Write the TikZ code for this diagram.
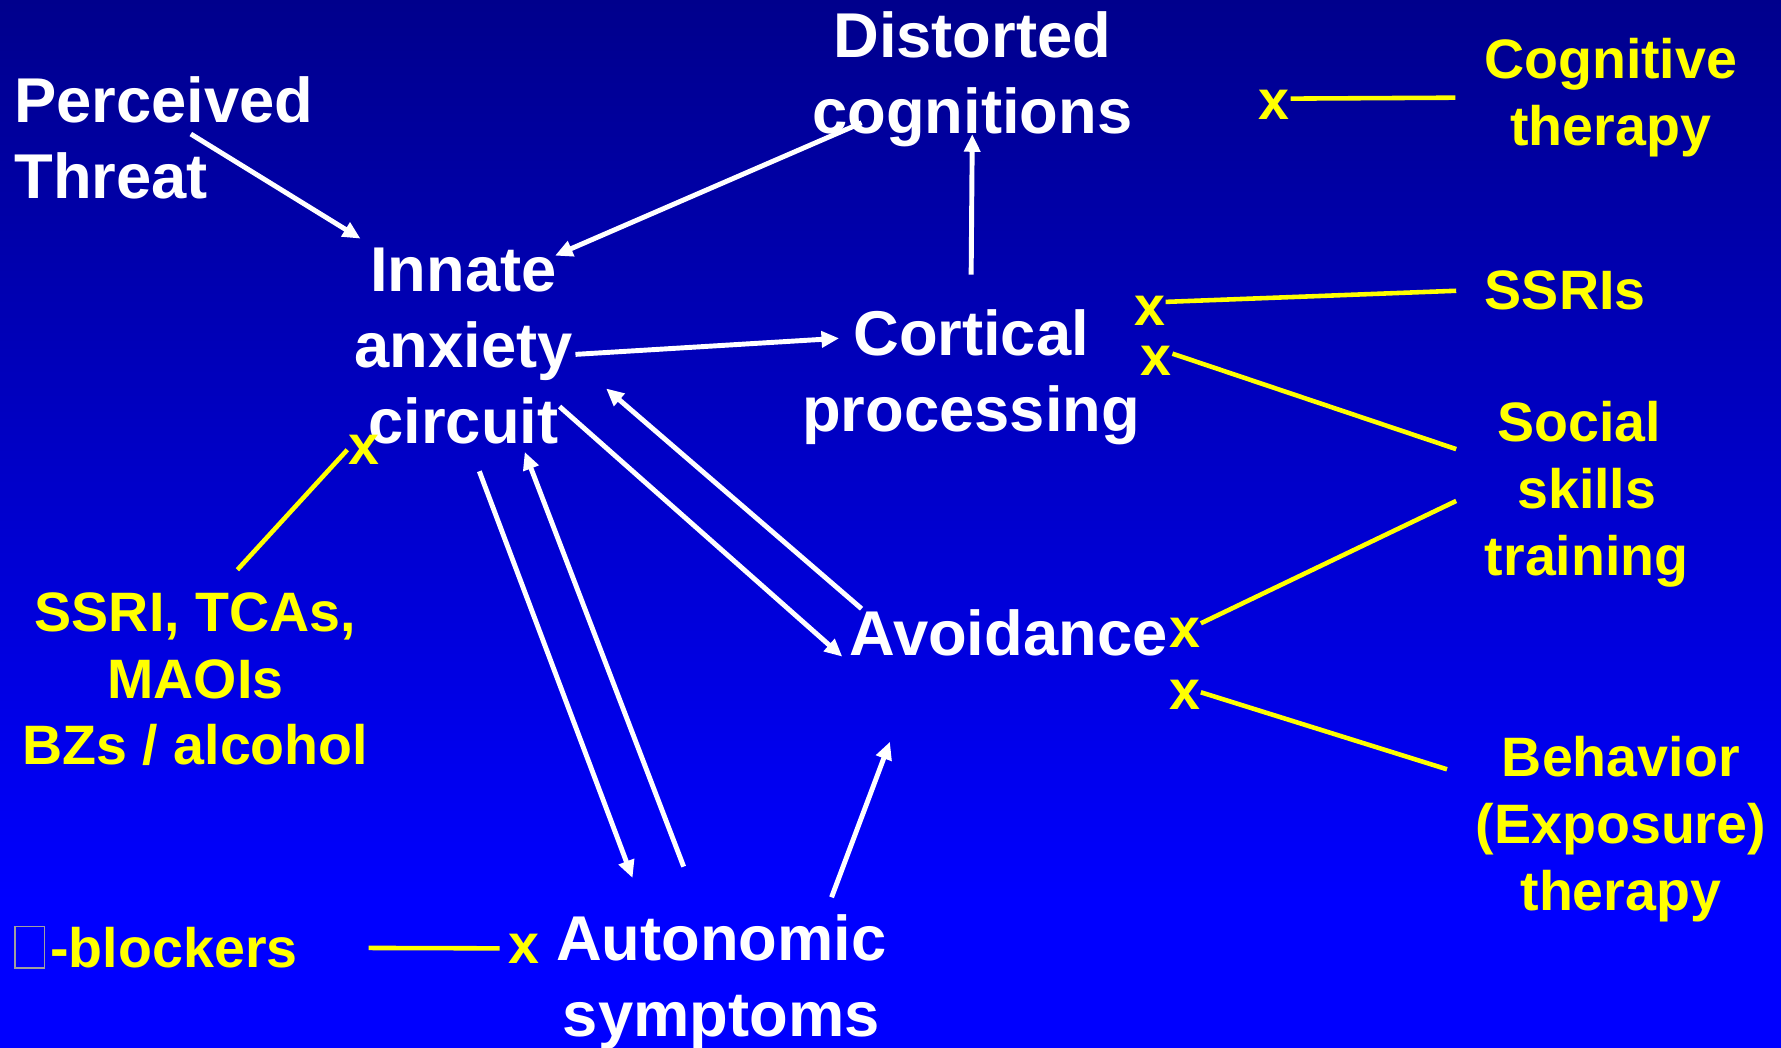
\documentclass[tikz,border=0pt]{standalone}
\usepackage{fontspec}
\setsansfont{Liberation Sans}
\usepackage{tikz}
\usetikzlibrary{arrows.meta, calc}

\definecolor{bgdark}{RGB}{0,0,140}
\definecolor{bgbright}{RGB}{0,0,255}
\definecolor{cureyellow}{RGB}{255,255,0}
\pgfdeclareverticalshading{slidebg}{100bp}{color(0bp)=(bgbright); color(32bp)=(bgbright); color(75bp)=(bgdark); color(100bp)=(bgdark)}
\newcommand{\glyphbox}{{\color{gray!75}\setlength{\fboxsep}{0pt}\setlength{\fboxrule}{0.4pt}\fbox{\rule{0pt}{0.72em}\hspace{0.5em}}}\hspace{0.1em}}

\begin{document}
\begin{tikzpicture}[x=0.011358cm, y=-0.011358cm,
            main/.style = {text=white, align=center, inner sep=0pt, font=\sffamily\bfseries\fontsize{18pt}{21.6pt}\selectfont},
            cure/.style = {text=cureyellow, align=center, inner sep=0pt, font=\sffamily\bfseries\fontsize{15.8pt}{19pt}\selectfont},
            therapy/.style = {cure, inner xsep=0.28cm},
            blocker/.style = {cure},
            flow/.style = {draw=white, line width=1.4pt, -{Triangle[length=5pt, width=4.5pt]}},
            cut/.style = {draw=cureyellow, line width=1.3pt}]
            \shade[use as bounding box, shading=slidebg] (0,0) rectangle (1568,922);

            \node[main, anchor=west, align=left] (threat) at (12,121) {Perceived\\Threat};
            \node[main] (distorted) at (856,70) {Distorted\\cognitions};
            \node[main] (innate) at (408,305) {Innate\\anxiety\\circuit};
            \node[main] (cortical) at (855,332) {Cortical\\processing};
            \node[main] (avoid) at (888,557) {Avoidance};
            \node[main] (auto) at (635,865) {Autonomic\\symptoms};

            \node[cure, inner ysep=0.22cm] (drugs) at (172,598) {SSRI, TCAs,\\MAOIs\hspace*{0.28em}\\BZs / alcohol};
            \node[cure, anchor=west] (beta) at (12,834) {\glyphbox-blockers};
            \node[therapy] (cogther) at (1418,86) {Cognitive\\therapy};
            \node[therapy] (ssris) at (1378,256) {SSRIs};
            \node[therapy] (social) at (1397,435) {Social\hspace*{0.28em}\\skills\\training};
            \node[therapy] (behav) at (1427,730) {Behavior\\(Exposure)\\therapy};

            \node[blocker] (xcog) at (1122,92) {x};
            \node[blocker] (xssri) at (1012,274) {x};
            \node[blocker] (xsocial) at (1018,318) {x};
            \node[blocker] (xavoid) at (1043,557) {x};
            \node[blocker] (xbehav) at (1043,612) {x};
            \node[blocker] (xdrugs) at (320,396) {x};
            \node[blocker] (xbeta) at (461,835) {x};

            \draw[flow] ($(threat.west)+(156,-3)$) -- ($(innate.north west)+(6,-8)$);
            \draw[flow] ($(distorted.south west)+(44,-22)$) -- ($(innate.north east)+(-16,7)$);
            \draw[flow] ($(innate.east)+(2,7)$) -- ($(cortical.north west)+(33,26)$);
            \draw[flow] ($(cortical.north)+(0,-30)$) -- ($(distorted.south)+(0,-12)$);
            \draw[flow] ($(innate.south east)+(-12,-34)$) -- ($(avoid.south west)+(-6,0)$);
            \draw[flow] ($(avoid.north west)+(11,0)$) -- ($(innate.east)+(29,37)$);
            \draw[flow] ($(innate.south)+(14,23)$) -- ($(auto.north west)+(68,-32)$);
            \draw[flow] ($(auto.north west)+(113,-42)$) -- ($(innate.south)+(54,6)$);
            \draw[flow] ($(auto.north east)+(-49,-15)$) -- ($(avoid.south west)+(36,75)$);

            \draw[cut] (xcog.20) -- (cogther.west);
            \draw[cut] (xssri.30) -- (ssris.west);
            \draw[cut] (xsocial.25) -- (social.161);
            \draw[cut] (xavoid.30) -- (social.183);
            \draw[cut] (xbehav.10) -- (behav.161);
            \draw[cut] (drugs.69) -- (xdrugs.west);
            \draw[cut, shorten <=20pt, shorten >=2.2pt] (beta) -- (xbeta);
        \end{tikzpicture}
\end{document}
